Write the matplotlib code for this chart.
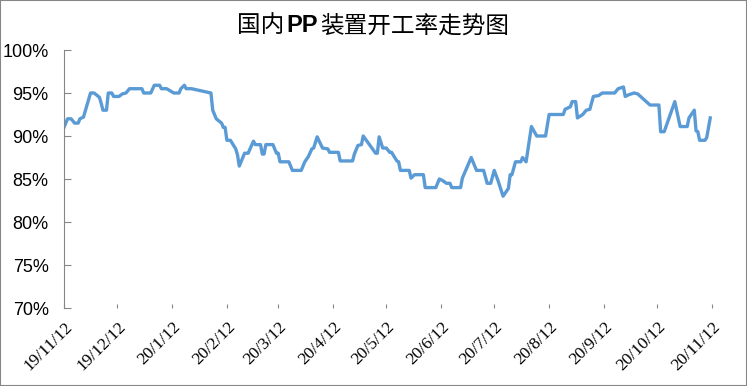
import pandas as pd
import numpy as np
import matplotlib
matplotlib.use('Agg')
import matplotlib.pyplot as plt
from matplotlib.patches import Rectangle

# utilisation rate of domestic PP plants
dates = [
    '2019-11-12', '2019-11-14', '2019-11-16', '2019-11-18', '2019-11-20', '2019-11-21',
    '2019-11-23', '2019-11-25', '2019-11-27', '2019-11-29', '2019-12-02', '2019-12-03',
    '2019-12-04', '2019-12-06', '2019-12-07', '2019-12-09', '2019-12-10', '2019-12-13',
    '2019-12-15', '2019-12-17', '2019-12-19', '2019-12-26', '2019-12-27', '2019-12-31',
    '2020-01-02', '2020-01-05', '2020-01-06', '2020-01-09', '2020-01-13', '2020-01-16',
    '2020-01-17', '2020-01-19', '2020-01-20', '2020-01-23', '2020-02-03', '2020-02-04',
    '2020-02-06', '2020-02-09', '2020-02-10', '2020-02-11', '2020-02-12', '2020-02-14',
    '2020-02-17', '2020-02-18', '2020-02-19', '2020-02-20', '2020-02-22', '2020-02-24',
    '2020-02-27', '2020-02-28', '2020-03-02', '2020-03-03', '2020-03-04', '2020-03-05',
    '2020-03-09', '2020-03-11', '2020-03-12', '2020-03-13', '2020-03-18', '2020-03-20',
    '2020-03-25', '2020-03-27', '2020-03-29', '2020-03-31', '2020-04-01', '2020-04-03',
    '2020-04-06', '2020-04-09', '2020-04-10', '2020-04-15', '2020-04-16', '2020-04-23',
    '2020-04-24', '2020-04-26', '2020-04-28', '2020-04-29', '2020-05-06', '2020-05-07',
    '2020-05-08', '2020-05-10', '2020-05-12', '2020-05-14', '2020-05-15', '2020-05-18',
    '2020-05-19', '2020-05-20', '2020-05-25', '2020-05-26', '2020-05-28', '2020-06-02',
    '2020-06-03', '2020-06-09', '2020-06-11', '2020-06-13', '2020-06-15', '2020-06-17',
    '2020-06-18', '2020-06-23', '2020-06-24', '2020-06-29', '2020-07-02', '2020-07-06',
    '2020-07-08', '2020-07-10', '2020-07-12', '2020-07-14', '2020-07-17', '2020-07-20',
    '2020-07-21', '2020-07-22', '2020-07-24', '2020-07-27', '2020-07-28', '2020-07-30',
    '2020-08-02', '2020-08-05', '2020-08-10', '2020-08-12', '2020-08-20', '2020-08-21',
    '2020-08-24', '2020-08-25', '2020-08-27', '2020-08-28', '2020-08-31', '2020-09-02',
    '2020-09-04', '2020-09-06', '2020-09-09', '2020-09-11', '2020-09-18', '2020-09-20',
    '2020-09-23', '2020-09-24', '2020-09-26', '2020-09-29', '2020-10-01', '2020-10-08',
    '2020-10-13', '2020-10-14', '2020-10-16', '2020-10-22', '2020-10-25', '2020-10-29',
    '2020-10-30', '2020-11-02', '2020-11-03', '2020-11-04', '2020-11-05', '2020-11-08',
    '2020-11-09', '2020-11-11',
]
rates = [
    91.0, 92.0, 92.0, 91.5, 91.5, 92.0,
    92.2, 93.6, 95.0, 95.0, 94.5, 93.8,
    93.0, 93.0, 95.0, 95.0, 94.6, 94.6,
    94.9, 95.0, 95.5, 95.5, 95.0, 95.0,
    95.9, 95.9, 95.5, 95.5, 95.0, 95.0,
    95.5, 95.9, 95.5, 95.5, 95.0, 93.0,
    92.0, 91.5, 91.0, 91.0, 89.5, 89.5,
    88.5, 87.8, 86.5, 87.0, 88.0, 88.0,
    89.4, 89.0, 89.0, 87.9, 87.9, 89.0,
    89.0, 88.0, 88.0, 87.0, 87.0, 86.0,
    86.0, 87.0, 87.6, 88.5, 88.6, 89.9,
    88.6, 88.5, 88.1, 88.1, 87.1, 87.1,
    87.9, 88.9, 89.0, 90.0, 88.0, 88.0,
    89.9, 88.6, 88.6, 88.1, 88.1, 87.1,
    87.0, 86.0, 86.0, 85.1, 85.5, 85.5,
    84.0, 84.0, 85.0, 84.8, 84.5, 84.5,
    84.0, 84.0, 85.1, 87.5, 86.0, 86.0,
    84.5, 84.5, 86.0, 84.9, 83.0, 83.9,
    85.5, 85.5, 87.0, 87.0, 87.5, 87.0,
    91.1, 90.0, 90.0, 92.5, 92.5, 93.1,
    93.4, 94.0, 94.0, 92.1, 92.5, 93.0,
    93.1, 94.6, 94.7, 95.0, 95.0, 95.5,
    95.7, 94.6, 94.8, 95.0, 94.9, 93.6,
    93.6, 90.5, 90.5, 94.0, 91.1, 91.1,
    92.1, 93.0, 90.6, 90.5, 89.5, 89.5,
    89.8, 92.1,
]

tick_dates = ['2019-11-12', '2019-12-12', '2020-01-12', '2020-02-12', '2020-03-12',
              '2020-04-12', '2020-05-12', '2020-06-12', '2020-07-12', '2020-08-12',
              '2020-09-12', '2020-10-12', '2020-11-12']
tick_labels = ['19/11/12', '19/12/12', '20/1/12', '20/2/12', '20/3/12', '20/4/12',
               '20/5/12', '20/6/12', '20/7/12', '20/8/12', '20/9/12', '20/10/12',
               '20/11/12']
y_ticks = [70, 75, 80, 85, 90, 95, 100]

# title pieces: CJK text with a bold "PP"
title_parts = ['国内', 'PP', '装置开工率走势图']

x = pd.to_datetime(dates)
xt = pd.to_datetime(tick_dates)

fig = plt.figure(figsize=(7.47, 3.86), dpi=100)
ax = fig.add_axes([64 / 747, 1 - 308 / 386, 648 / 747, 258 / 386])

ax.plot(x, rates, color='#5B9BD5', linewidth=2.4, solid_joinstyle='round')

ax.set_xlim(pd.Timestamp('2019-11-12'), pd.Timestamp('2020-11-12'))
ax.set_ylim(70, 100)
ax.set_yticks(y_ticks)
ax.set_yticklabels(['%d%%' % v for v in y_ticks], fontfamily='Liberation Sans', fontsize=13)
ax.set_xticks(xt)
ax.set_xticklabels([])

# slanted date labels, ending just right of and below each tick
for d, lab in zip(xt, tick_labels):
    ax.annotate(lab, xy=(d, 0), xycoords=('data', 'axes fraction'),
                xytext=(4.5, -12), textcoords='offset points',
                ha='right', va='center', rotation=45, rotation_mode='anchor',
                fontfamily='Liberation Serif', fontsize=12.5, annotation_clip=False)

for side in ['top', 'right', 'bottom']:
    ax.spines[side].set_visible(False)
ax.spines['left'].set_color('#868686')
ax.tick_params(axis='y', direction='in', length=5, color='#868686', pad=11)
ax.tick_params(axis='x', direction='in', length=3, color='#868686')

# lay the title out piece by piece so that "PP" can be bold
renderer = fig.canvas.get_renderer()
pieces = []
for part in title_parts:
    weight = 'bold' if part == 'PP' else 'normal'
    fam = ['Liberation Sans'] if part == 'PP' else ['Noto Sans CJK SC', 'DejaVu Sans']
    t = fig.text(0, 1 - 26 / 386, part, ha='left', va='center', fontsize=17,
                 fontweight=weight, family=fam)
    pieces.append(t)
widths = [p.get_window_extent(renderer).width for p in pieces]
gap = 2
total = sum(widths) + gap * (len(widths) - 1)
left = 373 - total / 2
for p, w in zip(pieces, widths):
    p.set_x(left / 747)
    left += w + gap

fig.patches.append(Rectangle((0, 0), 1, 1, transform=fig.transFigure, fill=False,
                             edgecolor='#868686', linewidth=1.5))

fig.savefig('out.png', dpi=100)
